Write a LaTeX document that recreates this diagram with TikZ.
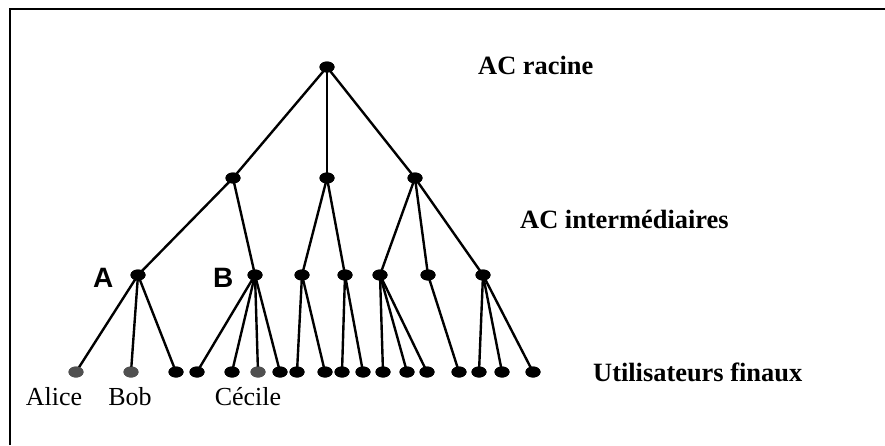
\documentclass[tikz,border=0pt]{standalone}
\usepackage{fontspec}
\setmainfont{Liberation Serif}
\newfontfamily\arialfont{Liberation Sans}
\usetikzlibrary{shapes.geometric}
\definecolor{usergrey}{HTML}{505050}
\begin{document}
\begin{tikzpicture}[x=1pt,y=-1pt,
  canode/.style={ellipse,fill=black,minimum width=15pt,minimum height=11pt,inner sep=0pt},
  usernode/.style={canode,fill=usergrey},
  treeedge/.style={line width=2.4pt,black},
  tierlabel/.style={font=\fontsize{26.4}{30}\selectfont\bfseries,anchor=base west,inner sep=0pt},
  personlabel/.style={font=\fontsize{26}{30}\selectfont,anchor=base,inner sep=0pt},
  cornerletter/.style={font=\arialfont\fontsize{28}{32}\selectfont\bfseries,anchor=base west,inner sep=0pt}]
\useasboundingbox (0,0) rectangle (885,445);
\draw[line width=2pt] (9.5,445) -- (9.5,8.5) -- (885,8.5);
% root
\node[canode] (root) at (327,67) {};
% level 2
\node[canode] (L) at (233,178) {};
\node[canode] (M) at (327,178) {};
\node[canode] (R) at (415,178) {};
% level 3
\node[canode] (A) at (138,275) {};
\node[canode] (B) at (255,275) {};
\node[canode] (C) at (302,275) {};
\node[canode] (D) at (345,275) {};
\node[canode] (E) at (380,275) {};
\node[canode] (F) at (428,275) {};
\node[canode] (G) at (483,275) {};
% leaves
\node[usernode] (a1) at (76,372) {};
\node[usernode] (a2) at (131,372) {};
\node[canode] (a3) at (176,372) {};
\node[canode] (b1) at (197,372) {};
\node[canode] (b2) at (232,372) {};
\node[usernode] (b3) at (258,372) {};
\node[canode] (b4) at (280,372) {};
\node[canode] (c1) at (297,372) {};
\node[canode] (c2) at (325,372) {};
\node[canode] (d1) at (342,372) {};
\node[canode] (d2) at (363,372) {};
\node[canode] (e1) at (383,372) {};
\node[canode] (e2) at (407,372) {};
\node[canode] (e3) at (427,372) {};
\node[canode] (f1) at (459,372) {};
\node[canode] (g1) at (479,372) {};
\node[canode] (g2) at (502,372) {};
\node[canode] (g3) at (533,372) {};
% edges
\draw[treeedge] (root.center) -- (L.center);
\draw[treeedge] (root.center) -- (M.center);
\draw[treeedge] (root.center) -- (R.center);
\draw[treeedge] (L.center) -- (A.center);
\draw[treeedge] (L.center) -- (B.center);
\draw[treeedge] (M.center) -- (C.center);
\draw[treeedge] (M.center) -- (D.center);
\draw[treeedge] (R.center) -- (E.center);
\draw[treeedge] (R.center) -- (F.center);
\draw[treeedge] (R.center) -- (G.center);
\draw[treeedge] (A.center) -- (a1.center);
\draw[treeedge] (A.center) -- (a2.center);
\draw[treeedge] (A.center) -- (a3.center);
\draw[treeedge] (B.center) -- (b1.center);
\draw[treeedge] (B.center) -- (b2.center);
\draw[treeedge] (B.center) -- (b3.center);
\draw[treeedge] (B.center) -- (b4.center);
\draw[treeedge] (C.center) -- (c1.center);
\draw[treeedge] (C.center) -- (c2.center);
\draw[treeedge] (D.center) -- (d1.center);
\draw[treeedge] (D.center) -- (d2.center);
\draw[treeedge] (E.center) -- (e1.center);
\draw[treeedge] (E.center) -- (e2.center);
\draw[treeedge] (E.center) -- (e3.center);
\draw[treeedge] (F.center) -- (f1.center);
\draw[treeedge] (G.center) -- (g1.center);
\draw[treeedge] (G.center) -- (g2.center);
\draw[treeedge] (G.center) -- (g3.center);
% redraw nodes on top of the edges
\foreach \n in {root,L,M,R,A,B,C,D,E,F,G,a3,b1,b2,b4,c1,c2,d1,d2,e1,e2,e3,f1,g1,g2,g3}
  \fill[black] (\n.center) ellipse (7.5pt and 5.5pt);
\foreach \n in {a1,a2,b3}
  \fill[usergrey] (\n.center) ellipse (7.5pt and 5.5pt);
% labels
\node[tierlabel] (lroot) at (478,74) {AC racine};
\node[tierlabel] (lmid) at (520,228) {AC intermédiaires};
\node[tierlabel] (lleaf) at (593,381) {Utilisateurs finaux};
\node[cornerletter] (lA) at (93,287) {A};
\node[cornerletter] (lB) at (213,287) {B};
\node[personlabel] (nalice) at (54,405) {Alice};
\node[personlabel] (nbob) at (130,405) {Bob};
\node[personlabel] (ncecile) at (248,405) {Cécile};
\end{tikzpicture}
\end{document}
